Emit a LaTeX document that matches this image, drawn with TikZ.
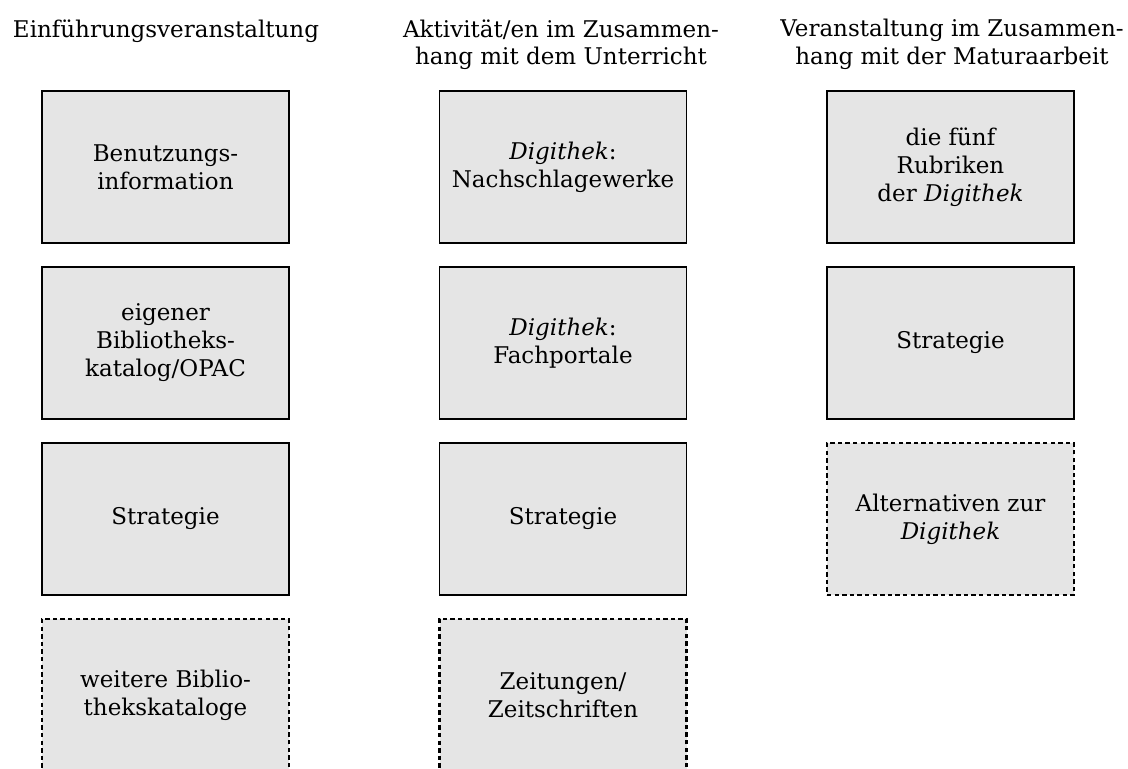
\documentclass[tikz,border=0pt]{standalone}
\usepackage{fontspec}
\setmainfont{DejaVu Serif}
\usetikzlibrary{positioning}

\begin{document}
\begin{tikzpicture}[
		x=0.5pt,
		y=-0.5pt,
		node distance=88pt,
		main box/.style={rectangle,inner sep=0pt,minimum width=123.5pt,minimum height=76pt,fill=black!10,draw,line width=0.6pt,align=center,font=\fontsize{11.5}{14}\selectfont},
		extra box/.style={main box,line width=1.2pt,dash pattern=on 2.2pt off 1.6pt},
		head/.style={anchor=north,inner sep=0pt,align=center,font=\fontsize{11.5}{13.8}\selectfont}]

	\useasboundingbox (0,0) rectangle (1128,769);

	\node[head] (h1) at (166,19) {Einführungsveranstaltung};
	\node[head] (h2) at (561,19) {Aktivität/en im Zusammen-\\hang mit dem Unterricht};
	\node[head] (h3) at (952,19) {Veranstaltung im Zusammen-\\hang mit der Maturaarbeit};

	\node[main box] (e1) at (165.5,167) {Benutzungs-\\information};
	\node[main box] (e2) [below of=e1] {eigener\\Bibliotheks-\\katalog/OPAC};
	\node[main box] (e3) [below of=e2] {Strategie};
	\node[extra box] (e4) [below of=e3] {weitere Biblio-\\thekskataloge};

	\node[main box] (u1) at (563,167) {\textit{Digithek}:\\Nachschlagewerke};
	\node[main box] (u2) [below of=u1] {\textit{Digithek}:\\Fachportale};
	\node[main box] (u3) [below of=u2] {Strategie};
	\node[extra box] (u4) [below of=u3] {Zeitungen/\\Zeitschriften};

	\node[main box] (m1) at (950.5,167) {die fünf\\Rubriken\\der \textit{Digithek}};
	\node[main box] (m2) [below of=m1] {Strategie};
	\node[extra box] (m3) [below of=m2] {Alternativen zur\\\textit{Digithek}};
\end{tikzpicture}
\end{document}
